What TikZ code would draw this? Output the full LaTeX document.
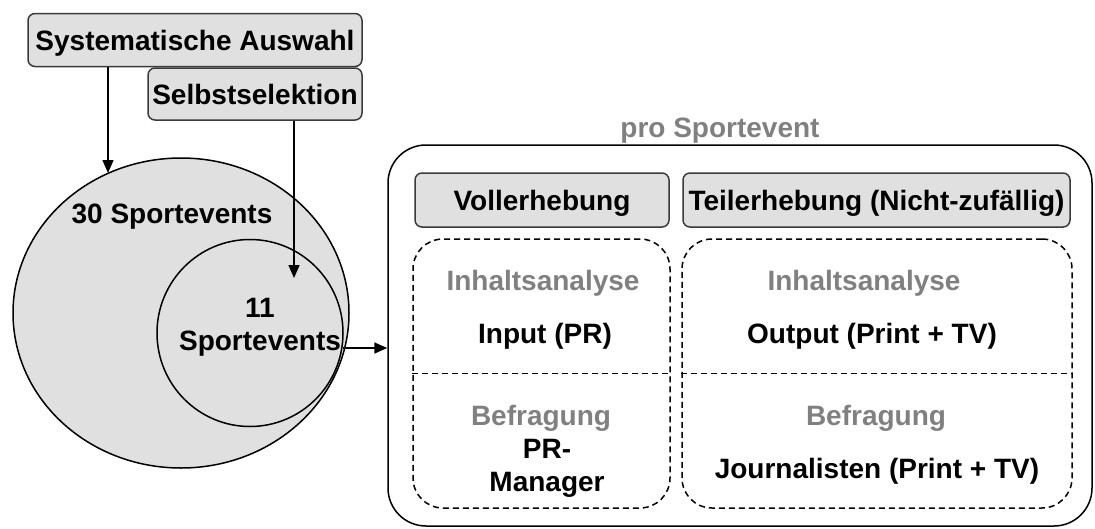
\documentclass[tikz,border=0pt]{standalone}
\usepackage{fontspec}
\setmainfont{Liberation Sans}
\usetikzlibrary{positioning,shapes.geometric,arrows.meta}
\definecolor{boxgray}{HTML}{E0E0E0}
\definecolor{txtgray}{HTML}{808080}
\definecolor{rimgray}{HTML}{3A3A3A}

\begin{document}
\begin{tikzpicture}[x=1pt,y=-1pt,font=\fontsize{28}{33}\selectfont\bfseries,line width=1.5pt,
    >={Triangle[length=13pt,width=11pt]}]
            \tikzstyle{graybox}=[draw=rimgray,fill=boxgray,rounded corners=7pt,inner sep=0pt,text height=21pt,text depth=0pt]
            \tikzstyle{dashbox}=[draw,dash pattern=on 6pt off 4pt,rounded corners=30pt,inner sep=0pt]
            \tikzstyle{method}=[text=txtgray,anchor=base,inner sep=0pt]
            \tikzstyle{group}=[anchor=base,inner sep=0pt,align=center]
            \useasboundingbox (0,0) rectangle (1095,528);
            % Auswahl der Sportevents
            \node[ellipse,draw,fill=boxgray,minimum width=336pt,minimum height=310pt,inner sep=0pt] (all) at (181,313) {};
            \node[ellipse,draw,minimum width=186pt,minimum height=187pt,inner sep=0pt] (sel) at (250,333) {};
            \node[group] (n30) at (172,223) {30 Sportevents};
            \node[group] (n11) at (260,350) {11\\Sportevents};
            \node[graybox,minimum width=334pt,minimum height=53pt] (sys) at (195,40) {Systematische Auswahl};
            \node[graybox,minimum width=214pt,minimum height=52pt] (selb) at (255,94) {Selbstselektion};
            \coordinate (systip) at (108,173);
            \coordinate (seltip) at (294,278);
            \draw[->] (sys.south -| systip) -- (systip);
            \draw[->] (selb.south -| seltip) -- (seltip);
            % pro Sportevent
            \node[draw,rounded corners=38pt,minimum width=704pt,minimum height=381pt,inner sep=0pt] (pro) at (740,335.5) {};
            \node[method] (protitle) at (720,137) {pro Sportevent};
            \coordinate (evstart) at (343,348);
            \draw[->] (evstart) -- (evstart -| pro.west);
            \node[graybox,minimum width=254pt,minimum height=54pt] (voll) at (542,200) {Vollerhebung};
            \node[graybox,minimum width=387pt,minimum height=54pt] (teil) at (876.5,200) {Teilerhebung (Nicht-zufällig)};
            \node[dashbox,minimum width=257pt,minimum height=269pt] (left) at (541.5,373.5) {};
            \node[dashbox,minimum width=390pt,minimum height=269pt] (right) at (877,373.5) {};
            \draw[dash pattern=on 6pt off 4pt] (left.west) -- (left.east);
            \draw[dash pattern=on 6pt off 4pt] (right.west) -- (right.east);
            \node[method] (linhalt) at (543,290) {Inhaltsanalyse};
            \node[group] (input) at (545,343) {Input (PR)};
            \node[method] (lbefr) at (541,425) {Befragung};
            \node[group] (prman) at (547,491) {PR-\\Manager};
            \node[method] (rinhalt) at (864,290) {Inhaltsanalyse};
            \node[group] (output) at (872,343) {Output (Print + TV)};
            \node[method] (rbefr) at (876,425) {Befragung};
            \node[group] (journ) at (877,478) {Journalisten (Print + TV)};
\end{tikzpicture}
\end{document}
